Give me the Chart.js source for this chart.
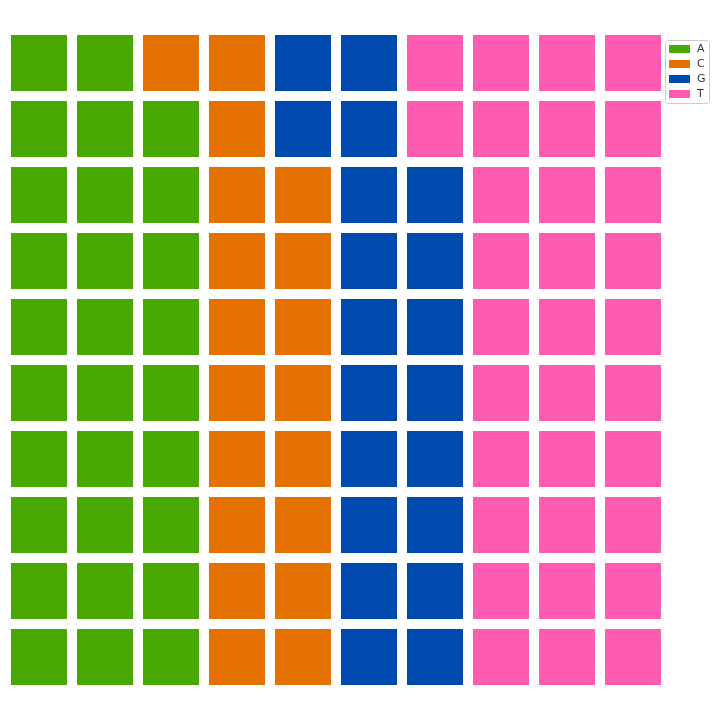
<!DOCTYPE html>
<html>
<head>
<meta charset="utf-8">
<script src="https://cdn.jsdelivr.net/npm/chart.js@4/dist/chart.umd.min.js"></script>
<style>
  html, body { margin: 0; padding: 0; background: #fff; }
  #wrap { width: 720px; height: 720px; }
</style>
</head>
<body>
<div id="wrap"><canvas id="waffle" width="720" height="720"></canvas></div>
<script>
const categories = ['A', 'C', 'G', 'T'];
const counts = [29, 19, 20, 32];
const colors = ['#4aa900', '#e57200', '#004aad', '#ff5bb0'];
const gridCols = 10;
const gridRows = 10;

// fill column by column, bottom to top
function buildCells() {
	const sets = categories.map(() => []);
	let k = 0;
	counts.forEach((n, ci) => {
		for (let i = 0; i < n; i++) {
			const col = Math.floor(k / gridRows);
			const row = k % gridRows;
			sets[ci].push({ x: col, y: row });
			k++;
		}
	});
	return sets;
}

const cells = buildCells();
const cellSide = 56;

const legendBox = {
	id: 'legendBox',
	afterDraw(chart) {
		const ctx = chart.ctx;
		const x0 = 665.5, y0 = 40.5, w = 44, h = 63;
		ctx.save();
		ctx.strokeStyle = '#cccccc';
		ctx.lineWidth = 1;
		ctx.beginPath();
		ctx.roundRect(x0, y0, w, h, 3);
		ctx.stroke();
		ctx.font = '11px "DejaVu Sans", sans-serif';
		ctx.textBaseline = 'middle';
		categories.forEach((label, i) => {
			ctx.fillStyle = colors[i];
			ctx.fillRect(669, 45 + i * 15, 21, 8);
			ctx.fillStyle = '#333333';
			ctx.fillText(label, 697, 49 + i * 15);
		});
		ctx.restore();
	},
};

new Chart(document.getElementById('waffle'), {
	type: 'scatter',
	data: {
		datasets: categories.map((label, i) => ({
			label: label,
			data: cells[i],
			backgroundColor: colors[i],
			borderWidth: 0,
			pointStyle: 'rect',
			pointRadius: cellSide / Math.SQRT2,
			pointHoverRadius: cellSide / Math.SQRT2,
		})),
	},
	options: {
		responsive: false,
		animation: false,
		layout: {
			autoPadding: false,
			padding: { left: 6, right: 54, top: 30, bottom: 30 },
		},
		scales: {
			x: { display: false, min: -0.5, max: gridCols - 0.5 },
			y: { display: false, min: -0.5, max: gridRows - 0.5 },
		},
		plugins: {
			legend: { display: false },
			tooltip: { enabled: false },
		},
	},
	plugins: [legendBox],
});
</script>
</body>
</html>
